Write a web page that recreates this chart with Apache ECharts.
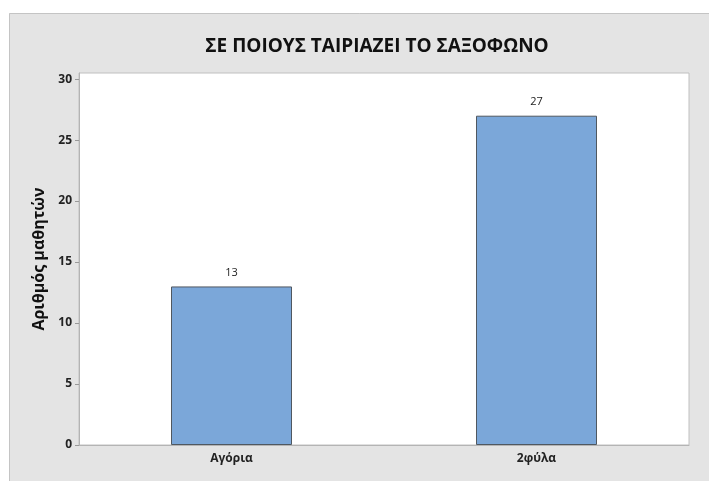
<!DOCTYPE html>
<html><head><meta charset="utf-8">
<script src="https://cdn.jsdelivr.net/npm/echarts@6/dist/echarts.min.js"></script>
<style>html,body{margin:0;padding:0;background:#fff}#c{width:709px;height:481px}</style>
</head><body><div id="c"></div>
<script>
const titleText = 'ΣΕ ΠΟΙΟΥΣ ΤΑΙΡΙΑΖΕΙ ΤΟ ΣΑΞΟΦΩΝΟ';
const yAxisName = 'Αριθμός μαθητών';
const categories = ['Αγόρια', '2φύλα'];
const values = [13, 27];
const yTicks = [0, 5, 10, 15, 20, 25, 30];

const chart = echarts.init(document.getElementById('c'));
const font = '"Open Sans", "Noto Sans", sans-serif';
chart.setOption({
  animation: false,
  backgroundColor: '#ffffff',
  graphic: [
    { type: 'rect', left: 9, top: 13, z: -10, shape: { width: 700, height: 468 }, style: { fill: '#e4e4e4' } },
    { type: 'line', z: -9, shape: { x1: 9.5, y1: 13.5, x2: 709, y2: 13.5 }, style: { stroke: '#c4c4c4', lineWidth: 1 } },
    { type: 'line', z: -9, shape: { x1: 9.5, y1: 13.5, x2: 9.5, y2: 481 }, style: { stroke: '#c4c4c4', lineWidth: 1 } }
  ],
  title: {
    text: titleText, left: 372, top: 32, textAlign: 'center',
    textStyle: { fontFamily: font, fontSize: 19, fontWeight: 'bold', color: '#111' }
  },
  grid: {
    left: 79, top: 73, right: 20, bottom: 36, show: true,
    backgroundColor: '#ffffff', borderColor: '#c0c0c0', borderWidth: 1
  },
  xAxis: {
    type: 'category', data: categories,
    axisLine: { lineStyle: { color: '#b4b4b4' } },
    axisTick: { alignWithLabel: true, length: 4, lineStyle: { color: '#999' } },
    axisLabel: { fontFamily: font, fontSize: 12, fontWeight: 'bold', color: '#222', margin: 8 }
  },
  yAxis: {
    type: 'value', min: 0, max: 30.5,
    name: yAxisName, nameLocation: 'middle', nameGap: 32,
    nameTextStyle: { fontFamily: font, fontSize: 16, fontWeight: 'bold', color: '#111' },
    axisLine: { show: true, lineStyle: { color: '#b4b4b4' } },
    axisTick: { show: true, length: 4, customValues: yTicks, lineStyle: { color: '#999' } },
    axisLabel: { customValues: yTicks, fontFamily: font, fontSize: 12, fontWeight: 'bold', color: '#222', margin: 7 },
    splitLine: { show: false }
  },
  series: [{
    type: 'bar', data: values, barWidth: 121,
    itemStyle: { color: '#7ba7d9', borderColor: '#505860', borderWidth: 1 },
    label: { show: true, position: 'top', distance: 8, fontFamily: font, fontSize: 11, color: '#222' }
  }]
});
</script></body></html>
